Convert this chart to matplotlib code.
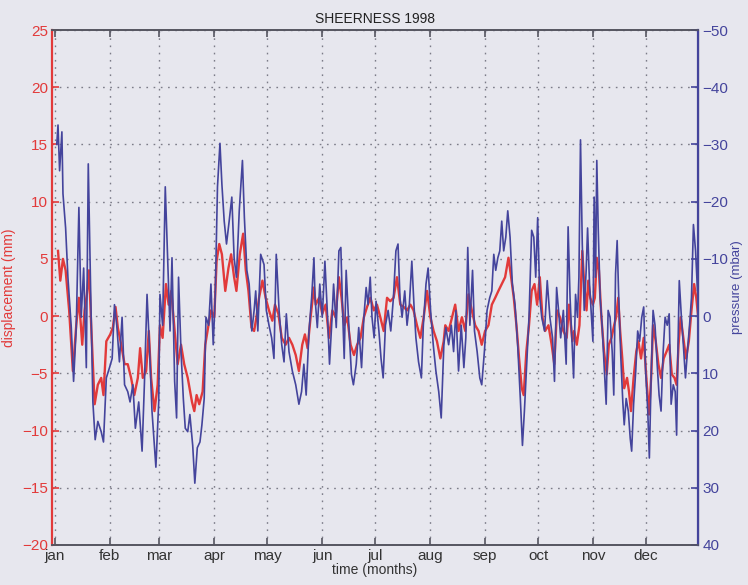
"""Sheerness 1998: displacement vs inverted air pressure."""

import matplotlib

matplotlib.use("Agg")

import matplotlib.pyplot as plt

# month starts (day of year) and labels
month_days = [0, 31, 59, 90, 120, 151, 181, 212, 243, 273, 304, 334]
month_labels = ["jan", "feb", "mar", "apr", "may", "jun",
                "jul", "aug", "sep", "oct", "nov", "dec"]

# displacement (mm)
disp_day = [
    1.7, 3.0, 4.5, 6.0, 8.0, 10.1, 12.0, 13.5, 15.4, 16.7, 18.0, 19.2, 20.5, 22.4,
    24.2, 26.1, 27.4, 29.0, 31.2, 32.7, 34.2, 35.5, 37.4, 39.3, 41.1, 43.0, 44.8,
    46.8, 48.1, 49.6, 51.5, 53.0, 54.3, 56.2, 58.0, 59.3, 60.8, 62.7, 64.2, 65.7,
    67.6, 69.3, 71.2, 73.0, 75.0, 77.4, 78.7, 80.0, 81.5, 83.4, 84.9, 86.2, 88.1,
    90.0, 91.3, 92.8, 94.3, 96.2, 98.0, 99.5, 101.2, 102.5, 104.4, 106.3, 107.8,
    109.3, 111.0, 112.5, 113.8, 115.3, 117.2, 119.0, 120.9, 122.8, 124.3, 126.2,
    128.1, 130.3, 132.2, 134.1, 136.0, 137.8, 139.7, 141.2, 142.7, 144.4, 146.3,
    147.3, 149.2, 151.0, 152.9, 154.8, 156.7, 158.5, 160.4, 161.9, 163.4, 165.1,
    167.0, 168.9, 170.7, 172.6, 174.5, 176.3, 178.2, 180.1, 181.9, 183.8, 185.7,
    187.6, 189.4, 191.3, 193.2, 195.1, 197.0, 198.9, 200.8, 202.6, 204.5, 206.4,
    208.3, 210.2, 212.1, 213.9, 215.8, 217.7, 219.6, 220.5, 222.4, 224.3, 226.1,
    228.0, 229.9, 231.8, 233.6, 235.5, 237.4, 239.3, 241.1, 243.0, 244.9, 246.8,
    248.7, 250.5, 252.4, 254.3, 256.2, 257.7, 259.2, 260.7, 262.2, 263.7, 264.8,
    266.3, 267.8, 269.3, 270.9, 272.4, 273.9, 275.4, 276.9, 278.8, 280.6, 282.1,
    283.6, 285.3, 287.2, 289.1, 290.4, 292.3, 293.3, 294.8, 296.3, 297.9, 299.0,
    300.3, 301.3, 302.4, 303.9, 305.0, 306.1, 307.3, 308.7, 310.2, 311.7, 312.9,
    314.4, 315.9, 317.0, 318.2, 319.3, 320.5, 321.6, 323.2, 324.3, 325.4, 326.9,
    328.4, 329.6, 331.1, 332.6, 334.1, 335.6, 336.8, 337.9, 339.4, 340.9, 342.4,
    343.9, 345.5, 347.0, 348.5, 350.0, 351.2, 352.3, 353.5, 355.0, 356.5, 358.1,
    359.6, 361.1, 362.3, 363.4, 364.5,
]
disp_mm = [
    5.7, 3.1, 5.0, 4.0, 0.5, -4.8, -0.8, 1.6, -2.5, 0.5, 1.9, 4.0, -1.0, -7.7,
    -6.0, -5.4, -6.9, -2.2, -1.6, -1.0, 0.8, -1.0, -2.5, -4.2, -4.2, -5.4, -6.9,
    -5.4, -2.8, -5.4, -4.8, -1.3, -5.4, -8.3, -6.0, -0.8, -1.9, 2.8, 1.0, 2.2,
    -1.3, -4.2, -2.5, -4.2, -5.4, -7.5, -8.3, -6.9, -7.7, -6.6, -2.5, -1.3, 0.5,
    -0.1, 4.8, 6.3, 5.4, 2.2, 4.2, 5.4, 3.4, 2.2, 5.4, 7.2, 4.0,
    2.2, -1.0, -1.3, -0.1, 1.6, 3.1, 1.6, 0.5, -0.4, 1.0, 0.2,
    -1.9, -2.5, -1.9, -2.5, -3.4, -4.8, -2.5, -1.6, -2.8, -0.1, 2.5,
    1.0, 1.6, 0.2, 1.0, -1.9, 0.5, -0.1, 3.4, 1.6, -0.8, -0.1,
    -2.5, -3.4, -2.5, -1.9, -0.1, 0.8, 1.6, 0.5, 1.0, -0.1, -1.3,
    1.6, 1.3, 1.6, 3.4, 1.0, 0.8, 0.5, 1.0, 0.5, -0.8, -1.9,
    -0.1, 2.2, -0.1, -1.3, -2.2, -3.7, -2.2, -0.8, -1.3, -0.1, 1.0,
    -1.3, -0.1, -1.3, 1.9, 0.5, -0.8, -1.3, -2.5, -1.3, -0.8, 1.0,
    1.6, 2.2, 2.8, 3.4, 5.1, 3.4, 1.6, -0.8, -3.7, -6.3, -6.9,
    -3.1, -0.8, 2.2, 2.8, 1.0, 3.4, -0.1, -1.3, -0.8, -2.5, -4.2,
    0.5, -0.1, -1.3, -1.9, 1.0, -2.2, -1.3, -2.5, -0.8, 5.7, 2.8,
    0.5, 3.1, 1.6, 1.0, 1.6, 5.1, 4.0, -0.1, -3.1, -5.1, -2.5,
    -1.9, -0.8, -0.1, 1.6, -1.3, -3.7, -6.3, -5.4, -6.6, -8.3, -5.4,
    -3.1, -2.2, -3.7, -1.9, -5.4, -8.6, -5.4, -0.8, -2.2, -4.2, -5.4,
    -3.7, -3.1, -2.5, -5.1, -5.4, -6.0, -2.5, -0.1, -1.9, -3.7, -2.2,
    0.5, 2.8, 1.6, -0.1, -0.8,
]

# air pressure anomaly (mbar)
pres_day = [
    1.0, 1.7, 2.6, 3.9, 4.5, 6.0, 7.3, 9.2, 10.5, 12.0, 13.5, 14.8, 16.2, 17.7,
    18.8, 20.0, 21.4, 22.7, 24.2, 26.1, 27.4, 29.0, 30.8, 32.3, 33.6, 34.9, 36.4,
    37.9, 39.3, 41.1, 42.4, 44.0, 45.4, 47.3, 49.2, 50.5, 52.0, 53.3, 54.8, 57.0,
    58.6, 59.3, 60.8, 62.3, 63.7, 65.0, 66.1, 67.6, 68.7, 69.8, 71.2, 72.5, 73.6,
    75.0, 76.2, 77.8, 79.0, 80.4, 81.9, 83.0, 84.3, 85.3, 86.8, 88.1, 89.4, 90.5,
    91.8, 93.2, 94.3, 95.6, 96.9, 98.4, 99.9, 101.2, 102.5, 104.1, 105.2, 105.9,
    107.0, 108.4, 109.7, 111.2, 112.5, 113.4, 114.6, 116.2, 118.1, 119.4, 120.9,
    122.4, 123.7, 125.0, 126.6, 128.1, 129.4, 130.7, 132.2, 134.1, 136.0, 137.8,
    139.3, 140.6, 141.9, 143.5, 145.0, 146.3, 146.9, 148.2, 149.6, 151.0, 152.5,
    154.0, 155.1, 156.3, 157.4, 158.9, 160.4, 161.5, 162.6, 163.4, 164.5, 166.0,
    167.5, 168.6, 170.2, 171.6, 173.2, 174.5, 175.8, 176.9, 178.1, 179.1, 180.3,
    181.4, 183.0, 184.2, 185.4, 186.7, 188.2, 189.7, 191.2, 192.6, 193.8, 194.9,
    196.1, 197.6, 198.9, 200.2, 201.6, 202.8, 203.9, 205.4, 207.0, 208.1, 209.6,
    210.8, 212.2, 213.7, 215.2, 216.8, 218.2, 219.7, 220.8, 222.4, 223.9, 225.2,
    226.5, 228.0, 229.5, 231.0, 232.1, 233.2, 234.4, 235.9, 237.0, 238.5, 240.0,
    241.1, 242.6, 244.1, 245.6, 246.8, 247.9, 249.0, 250.2, 251.3, 252.4, 253.5,
    254.7, 255.8, 257.1, 258.4, 259.9, 261.4, 262.9, 264.1, 265.2, 266.5, 267.8,
    269.3, 270.5, 271.6, 272.7, 273.9, 275.0, 276.6, 278.1, 279.6, 281.1, 282.2,
    283.4, 284.5, 285.7, 287.2, 288.8, 289.9, 291.0, 293.0, 294.1, 295.2, 296.0,
    296.9, 297.9, 299.0, 300.1, 300.9, 302.0, 303.1, 303.9, 304.6, 305.4, 306.1,
    306.9, 308.0, 309.1, 310.2, 311.4, 312.5, 313.6, 314.8, 315.7, 316.7, 317.6,
    318.5, 319.7, 320.8, 321.6, 322.7, 323.9, 325.0, 325.8, 326.9, 328.1, 329.2,
    330.3, 331.5, 332.6, 333.7, 334.9, 335.8, 336.8, 337.9, 339.0, 340.2, 341.3,
    342.4, 343.6, 344.7, 345.9, 347.0, 348.1, 349.3, 350.4, 351.2, 352.0, 352.7,
    353.9, 355.0, 356.2, 357.3, 358.5, 359.6, 360.7, 361.9, 363.0, 363.8, 364.5,
]
pres_mbar = [
    -30.0, -33.4, -25.4, -32.2, -21.4, -15.4, -6.8, 2.0, 11.4, 2.0, -19.0, 0.2, -8.4, 9.0,
    -26.6, -6.8, 15.0, 21.6, 18.4, 20.2, 22.0, 10.8, 9.0, 7.4, -2.0, 1.6, 8.0,
    0.2, 12.0, 13.2, 15.0, 12.0, 19.6, 15.0, 23.6, 12.0, -3.8, 5.0, 16.6, 26.4,
    15.0, -3.8, 1.6, -22.6, -9.6, 2.6, -10.2, 11.4, 17.8, -6.8, 6.2, 14.4, 19.6,
    20.2, 17.2, 22.6, 29.2, 23.0, 22.0, 19.0, 14.4, 0.2, 1.6, -5.6, 5.0, -3.2,
    -22.6, -30.2, -23.0, -16.6, -12.6, -16.6, -20.8, -10.2, -6.8, -18.4, -23.6, -27.2,
    -17.2, -8.0, -5.6, 2.6, -1.0, -4.4, 2.6, -10.8, -9.0, -1.0, 1.6,
    3.8, 7.4, -10.8, -1.0, 5.0, 8.0, -0.4, 6.2, 9.6, 12.0, 15.4,
    13.2, 8.4, 13.8, 2.6, -3.2, -10.2, -3.2, 2.0, -5.6, 0.2, -9.6,
    0.2, 8.4, 1.6, -5.6, 2.0, -11.4, -12.0, 0.2, 7.4, -8.0, 1.6,
    10.2, 12.0, 8.4, 2.0, 9.0, 0.2, -5.0, -2.0, -6.8, 0.2, 3.8,
    -2.6, 2.6, 7.4, 10.8, 1.6, -1.0, 2.6, -3.2, -11.4, -12.6, -3.2,
    0.2, -4.4, 1.6, -2.0, -9.6, -2.0, 3.8, 8.0, 10.8, 1.6, -5.6,
    -8.4, -1.0, 5.0, 9.6, 13.2, 17.8, 5.0, 2.0, 5.0, 1.6, 6.2,
    -1.0, 9.6, 1.6, 9.0, 3.8, -12.0, 1.6, -8.0, 2.6, 6.2, 10.8,
    12.0, 6.2, -1.0, -3.2, -4.4, -10.8, -8.0, -10.2, -11.4, -16.6, -11.4,
    -13.8, -18.4, -13.8, -5.6, -2.0, 5.0, 14.4, 22.6, 16.6, 8.4, 0.2,
    -15.0, -13.8, -6.8, -17.2, -3.2, 0.2, 2.6, -6.2, 0.2, 3.8, 11.4,
    -5.0, -1.0, 3.8, -1.0, 8.4, -15.6, -3.2, 10.8, -3.8, 0.2, -6.8,
    -30.8, -12.6, -1.0, -8.0, -15.4, -5.6, 0.2, 4.4, -20.8, -6.8, -27.2,
    -15.4, -3.2, 1.6, 8.4, 15.4, -1.0, 0.2, 6.2, 13.8, -7.4, -13.2,
    -3.2, 7.4, 15.0, 19.0, 14.4, 16.6, 21.4, 23.6, 15.4, 9.6, 2.6,
    4.4, 0.2, -1.6, 9.6, 16.6, 24.8, 10.8, -1.0, 1.6, 8.4, 13.8,
    16.6, 6.2, 0.2, 1.6, -0.4, 15.4, 12.0, 13.2, 20.8, 5.0, -6.2,
    0.2, 5.0, 10.8, 6.2, 1.6, -3.2, -16.0, -11.4, -4.4, -9.6, -3.2,
]

BG = "#e7e7ee"
RED = "#e23a3a"
BLUE = "#44449c"
AXIS = "#555560"

plt.rcParams["font.family"] = ["Liberation Sans", "DejaVu Sans"]

fig = plt.figure(figsize=(7.48, 5.85), dpi=100, facecolor=BG)
ax = fig.add_axes([0.0695, 0.0684, 0.8637, 0.8803])
ax.set_facecolor(BG)
ax2 = ax.twinx()

ax.plot(disp_day, disp_mm, color=RED, lw=1.7)
ax2.plot(pres_day, pres_mbar, color=BLUE, lw=1.2)

ax.set_xlim(-1.7, 363.3)
ax.set_ylim(-20, 25)
ax2.set_ylim(40, -50)

ax.set_xticks(month_days)
ax.set_xticklabels(month_labels, fontsize=11, color="#333333")
ax.set_yticks(range(-20, 26, 5))
ax2.set_yticks(range(-50, 41, 10))

ax.tick_params(axis="x", direction="in", top=True, length=5, width=1.2,
               color=AXIS, pad=3)
ax.tick_params(axis="y", direction="in", length=5, width=1.2, colors=RED,
               labelsize=11, pad=3)
ax2.tick_params(axis="y", direction="in", length=5, width=1.2, colors=BLUE,
                labelsize=11, pad=3)

ax.grid(True, linestyle=(0, (1.2, 4)), color="#7c7c88", lw=1.0)

for name in ("top", "bottom"):
    ax.spines[name].set_color(AXIS)
    ax.spines[name].set_linewidth(1.2)
ax.spines["left"].set_color(RED)
ax.spines["left"].set_linewidth(1.6)
ax2.spines["left"].set_visible(False)
ax2.spines["top"].set_color(AXIS)
ax2.spines["top"].set_linewidth(1.2)
ax2.spines["bottom"].set_color(AXIS)
ax2.spines["bottom"].set_linewidth(1.2)
ax2.spines["right"].set_color(BLUE)
ax2.spines["right"].set_linewidth(1.6)

ax.set_title("SHEERNESS 1998", fontsize=10, color="#222222", pad=5)
ax.set_xlabel("time (months)", fontsize=10, color="#333333", labelpad=0)
ax.set_ylabel("displacement (mm)", fontsize=10, color=RED, labelpad=4)
ax2.set_ylabel("pressure (mbar)", fontsize=9.5, color=BLUE, labelpad=2)

fig.savefig("out.png", dpi=100, facecolor=BG)
